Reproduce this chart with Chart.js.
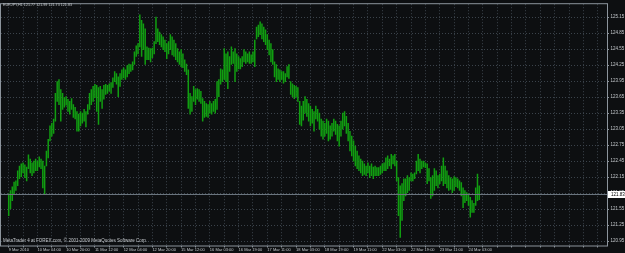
<!DOCTYPE html>
<html>
<head>
<meta charset="utf-8">
<script src="https://cdn.jsdelivr.net/npm/chart.js@4.4.1/dist/chart.umd.min.js"></script>
<style>
  html, body { margin: 0; padding: 0; background: #0d0f11; overflow: hidden; }
</style>
</head>
<body>
<canvas id="chart" width="625" height="253"></canvas>
<script>
// EURJPY H1, 9 Mar 2010 12:00 .. 24 Mar 2010
const symbol = 'EURJPY,H1';
const lastBar = [121.77, 121.99, 121.73, 121.83]; // open high low close
const timeLabels = ['9 Mar 2010', '10 Mar 04:00', '10 Mar 20:00', '11 Mar 12:00', '12 Mar 04:00',
  '12 Mar 20:00', '15 Mar 12:00', '16 Mar 03:00', '16 Mar 19:00', '17 Mar 11:00', '18 Mar 03:00',
  '18 Mar 19:00', '19 Mar 11:00', '22 Mar 03:00', '22 Mar 19:00', '23 Mar 11:00', '24 Mar 03:00'];
const priceTicks = [120.95, 121.25, 121.55, 121.85, 122.15, 122.45, 122.75, 123.05,
  123.35, 123.65, 123.95, 124.25, 124.55, 124.85, 125.15];

const highs = [
  121.84, 121.90, 121.97, 122.06, 122.08, 122.27, 122.36, 122.40, 122.42, 122.38,
  122.34, 122.57, 122.49, 122.42, 122.45, 122.49, 122.45, 122.53, 122.49, 122.45,
  122.36, 122.64, 122.86, 123.11, 123.16, 123.24, 123.72, 123.94, 123.98, 123.79,
  123.72, 123.64, 123.66, 123.61, 123.57, 123.62, 123.51, 123.46, 123.38, 123.33,
  123.38, 123.35, 123.42, 123.38, 123.51, 123.72, 123.79, 123.85, 123.89, 123.87,
  123.83, 123.85, 123.79, 123.87, 123.89, 123.87, 123.90, 123.92, 124.01, 124.13,
  124.09, 124.03, 124.09, 124.16, 124.20, 124.16, 124.24, 124.27, 124.26, 124.31,
  124.50, 124.61, 124.65, 125.19, 125.09, 125.02, 124.93, 124.59, 124.57, 124.56,
  124.57, 124.69, 125.15, 124.93, 124.87, 124.82, 124.78, 124.72, 124.65, 124.69,
  124.82, 124.78, 124.72, 124.65, 124.56, 124.50, 124.54, 124.46, 124.35, 124.27,
  124.16, 123.72, 123.66, 123.85, 123.79, 123.81, 123.79, 123.76, 123.62, 123.57,
  123.53, 123.51, 123.57, 123.53, 123.57, 123.61, 123.94, 123.98, 124.18, 124.16,
  124.56, 124.46, 124.50, 124.41, 124.59, 124.50, 124.56, 124.46, 124.41, 124.37,
  124.41, 124.54, 124.50, 124.46, 124.50, 124.44, 124.50, 124.72, 124.96, 125.00,
  125.06, 125.02, 124.96, 124.91, 124.82, 124.72, 124.65, 124.54, 124.31, 124.26,
  124.18, 124.16, 124.13, 124.13, 124.09, 124.22, 124.26, 123.94, 123.90, 123.87,
  123.85, 123.83, 123.57, 123.48, 123.57, 123.66, 123.61, 123.53, 123.48, 123.42,
  123.38, 123.48, 123.42, 123.35, 123.24, 123.20, 123.16, 123.24, 123.20, 123.11,
  123.16, 123.24, 123.20, 123.14, 123.11, 123.20, 123.35, 123.38, 123.29, 123.16,
  123.01, 122.92, 122.83, 122.73, 122.64, 122.55, 122.49, 122.45, 122.40, 122.36,
  122.42, 122.36, 122.40, 122.34, 122.36, 122.33, 122.33, 122.36, 122.40, 122.42,
  122.51, 122.55, 122.49, 122.58, 122.55, 122.58, 122.45, 122.14, 121.99, 122.03,
  122.12, 122.12, 122.18, 122.14, 122.23, 122.21, 122.23, 122.45, 122.58, 122.49,
  122.45, 122.45, 122.42, 122.40, 122.31, 122.14, 122.18, 122.31, 122.27, 122.18,
  122.21, 122.36, 122.51, 122.36, 122.27, 122.18, 122.14, 122.12, 122.16, 122.14,
  122.12, 122.08, 122.05, 121.95, 121.90, 121.86, 121.84, 121.77, 121.71, 121.66,
  121.95, 122.21, 121.99
];
const lows = [
  121.43, 121.56, 121.71, 121.84, 121.90, 121.99, 122.12, 122.16, 122.23, 122.14,
  122.08, 122.31, 122.23, 122.18, 122.23, 122.27, 122.27, 122.34, 122.31, 121.95,
  121.84, 122.36, 122.51, 122.83, 122.92, 122.97, 123.20, 123.57, 123.51, 123.20,
  123.42, 123.46, 123.50, 123.38, 123.33, 123.42, 123.27, 123.24, 123.01, 123.01,
  123.11, 123.16, 123.20, 123.09, 123.33, 123.42, 123.51, 123.57, 123.64, 123.38,
  123.14, 123.57, 123.44, 123.61, 123.70, 123.72, 123.76, 123.72, 123.83, 123.94,
  123.89, 123.66, 123.85, 123.98, 124.01, 123.98, 124.03, 124.09, 124.13, 124.16,
  124.26, 124.41, 124.46, 124.59, 124.41, 124.54, 124.26, 124.35, 124.35, 124.31,
  124.39, 124.46, 124.65, 124.69, 124.63, 124.59, 124.54, 124.50, 124.37, 124.46,
  124.54, 124.44, 124.41, 124.35, 124.31, 124.26, 124.22, 124.20, 124.13, 124.07,
  123.44, 123.33, 123.38, 123.57, 123.51, 123.61, 123.57, 123.53, 123.20, 123.27,
  123.29, 123.27, 123.35, 123.33, 123.38, 123.35, 123.42, 123.66, 123.89, 123.94,
  123.98, 123.94, 123.81, 124.13, 124.26, 124.28, 123.94, 124.13, 124.18, 124.18,
  124.22, 124.31, 124.28, 124.31, 124.28, 124.28, 124.31, 124.22, 124.74, 124.78,
  124.82, 124.74, 124.69, 124.63, 124.54, 124.44, 124.31, 124.26, 124.03, 123.94,
  123.98, 123.94, 123.98, 123.91, 123.94, 124.03, 124.00, 123.70, 123.66, 123.62,
  123.66, 123.57, 123.14, 123.11, 123.22, 123.35, 123.29, 123.20, 123.11, 123.16,
  123.01, 123.24, 123.20, 123.05, 122.92, 122.86, 122.92, 122.97, 122.83, 122.86,
  122.92, 123.01, 122.95, 122.83, 122.73, 122.92, 123.05, 123.11, 122.97, 122.83,
  122.64, 122.55, 122.45, 122.36, 122.31, 122.27, 122.23, 122.18, 122.20, 122.18,
  122.23, 122.14, 122.18, 122.12, 122.18, 122.18, 122.18, 122.20, 122.23, 122.27,
  122.27, 122.31, 122.36, 122.31, 122.40, 122.36, 122.08, 121.43, 121.02, 121.34,
  121.71, 121.80, 121.86, 121.90, 122.08, 122.08, 122.12, 122.21, 122.27, 122.23,
  122.31, 122.34, 122.33, 122.03, 122.08, 121.75, 121.80, 121.90, 121.99, 121.95,
  122.03, 122.08, 121.99, 122.03, 121.95, 121.90, 121.92, 121.86, 121.90, 121.97,
  121.95, 121.90, 121.80, 121.58, 121.67, 121.71, 121.62, 121.40, 121.49, 121.49,
  121.62, 121.71, 121.73
];

const BG = '#0d0f11';
const GRID = '#3b434b';
const FRAME = '#8c949c';
const TEXT = '#c4c8cc';
const FONT = 'Liberation Sans, Arial, sans-serif';

const bars = highs.map((h, i) => ({ x: i, y: [lows[i], h] }));

const chartDecor = {
  id: 'chartDecor',
  beforeDraw(chart) {
    const c = chart.ctx;
    c.save();
    c.fillStyle = BG;
    c.fillRect(0, 0, chart.width, chart.height);
    c.restore();
  },
  afterDraw(chart) {
    const c = chart.ctx;
    const a = chart.chartArea;
    const y = chart.scales.y.getPixelForValue(lastBar[3]);
    c.save();
    // current price line
    c.strokeStyle = '#6a747e';
    c.lineWidth = 1;
    c.beginPath();
    c.moveTo(a.left, Math.round(y) + 0.5);
    c.lineTo(a.right, Math.round(y) + 0.5);
    c.stroke();
    // frame
    c.strokeStyle = FRAME;
    c.strokeRect(a.left - 0.5, a.top - 0.5, a.right - a.left + 1, a.bottom - a.top + 1);
    // price box
    c.fillStyle = '#ffffff';
    c.fillRect(a.right + 1, Math.round(y) - 3, chart.width - a.right, 7);
    c.fillStyle = '#000000';
    c.font = '4.5px ' + FONT;
    c.textBaseline = 'middle';
    c.fillText(lastBar[3].toFixed(2), a.right + 4, Math.round(y) + 0.5);
    // header and footer
    c.fillStyle = TEXT;
    c.font = '3.7px ' + FONT;
    c.fillText(symbol + ' ' + lastBar.map(v => v.toFixed(2)).join(' '), 3, 5);
    c.font = '4.5px ' + FONT;
    c.fillText('MetaTrader 4 at FOREX.com, \u00a9 2001-2009 MetaQuotes Software Corp.', 3, 240.5);
    c.restore();
  }
};

new Chart(document.getElementById('chart'), {
  type: 'bar',
  data: {
    datasets: [{
      data: bars,
      backgroundColor: '#119e11',
      borderWidth: 0,
      barThickness: 0.85
    }]
  },
  options: {
    responsive: false,
    animation: false,
    layout: { padding: { left: 1, top: 2, right: 0, bottom: 0 } },
    plugins: { legend: { display: false }, tooltip: { enabled: false } },
    scales: {
      x: {
        type: 'linear',
        min: -0.27,
        max: 329.1,
        afterBuildTicks(scale) {
          const t = [];
          for (let v = 0; v <= 328; v += 8) t.push({ value: v });
          scale.ticks = t;
        },
        afterFit(scale) { scale.height = 7.5; },
        grid: { color: GRID, drawTicks: true, tickLength: 2, tickColor: FRAME, offset: false },
        border: { display: false, dash: [1, 2] },
        ticks: {
          align: 'start',
          autoSkip: false,
          maxRotation: 0,
          padding: 0,
          color: TEXT,
          font: { size: 4, family: FONT },
          callback: v => (v % 16 === 0 && timeLabels[v / 16]) ? timeLabels[v / 16] : ''
        }
      },
      y: {
        position: 'right',
        min: 120.87,
        max: 125.39,
        afterBuildTicks(scale) { scale.ticks = priceTicks.map(v => ({ value: v })); },
        afterFit(scale) { scale.width = 18; },
        grid: { color: GRID, tickLength: 2, tickColor: FRAME },
        border: { display: false, dash: [1, 2] },
        ticks: {
          padding: 1.5,
          color: TEXT,
          font: { size: 4.5, family: FONT },
          callback: v => v.toFixed(2)
        }
      }
    }
  },
  plugins: [chartDecor]
});
</script>
</body>
</html>
